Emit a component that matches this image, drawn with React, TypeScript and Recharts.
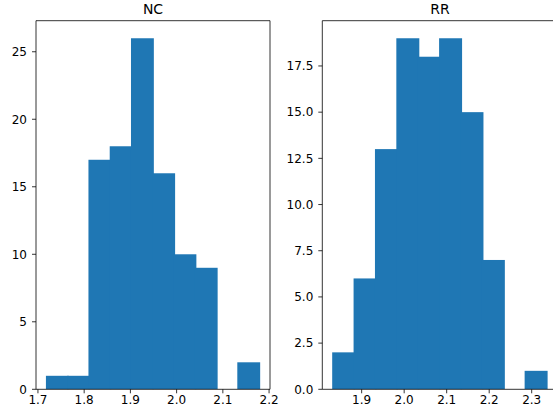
import { BarChart, Bar, XAxis, YAxis, ReferenceLine } from "recharts";

// bin centres (10 bins each)
const ncBins = [1.742, 1.788, 1.834, 1.88, 1.926, 1.972, 2.018, 2.064, 2.11, 2.156];
const ncCounts = [1, 1, 17, 18, 26, 16, 10, 9, 0, 2];
const ncXTicks = [1.7, 1.8, 1.9, 2.0, 2.1, 2.2];
const ncYTicks = [0, 5, 10, 15, 20, 25];

const rrBins = [1.8577, 1.908, 1.9583, 2.0086, 2.0589, 2.1092, 2.1595, 2.2098, 2.2601, 2.3104];
const rrCounts = [2, 6, 13, 19, 18, 19, 15, 7, 0, 1];
const rrXTicks = [1.9, 2.0, 2.1, 2.2, 2.3];
const rrYTicks = [0, 2.5, 5, 7.5, 10, 12.5, 15, 17.5];

const BLUE = "#1f77b4";
const FONT = "DejaVu Sans, sans-serif";
const tickStyle = { fill: "#000", fontSize: 12, fontFamily: FONT };

// bar rect widened a little so neighbouring bins touch (recharts truncates bar x/width)
const HistBar = (props: any) => {
  const { x, y, width, height } = props;
  if (!height || height <= 0) return null;
  return <rect x={x - 0.8} y={y} width={width + 1.6} height={height} fill={BLUE} />;
};

interface HistProps {
  title: string;
  bins: number[];
  counts: number[];
  xTicks: number[];
  yTicks: number[];
  xDomain: [number, number];
  yDomain: [number, number];
  yWidth: number;
  width: number;
  rightMargin: number;
  left: number;
  barPx: number;
  yFmt: (v: number) => string;
}

const Hist = (p: HistProps) => {
  const data = p.bins.map((b, i) => ({ bin: b, count: p.counts[i] }));
  const plotW = p.width - p.yWidth - p.rightMargin;
  return (
    <div style={{ position: "absolute", left: p.left, top: 0, width: p.width, height: 416 }}>
      <div
        style={{
          position: "absolute",
          left: p.yWidth,
          width: plotW,
          top: 1,
          textAlign: "center",
          fontFamily: FONT,
          fontSize: 14,
          fontWeight: 400,
        }}
      >
        {p.title}
      </div>
      <BarChart
        width={p.width}
        height={416}
        data={data}
        barCategoryGap={0}
        barGap={0}
        margin={{ top: 20.7, right: p.rightMargin, bottom: 0, left: 0 }}
      >
        <XAxis
          dataKey="bin"
          type="number"
          domain={p.xDomain}
          allowDataOverflow
          ticks={p.xTicks}
          interval={0}
          tickFormatter={(v: number) => v.toFixed(1)}
          height={26.7}
          tickSize={4}
          tickMargin={2}
          tick={tickStyle}
          stroke="#000"
          strokeWidth={0.8}
        />
        <YAxis
          domain={p.yDomain}
          allowDataOverflow
          ticks={p.yTicks}
          interval={0}
          tickFormatter={p.yFmt}
          width={p.yWidth}
          tickSize={4}
          tickMargin={5}
          tick={tickStyle}
          stroke="#000"
          strokeWidth={0.8}
        />
        <Bar
          dataKey="count"
          fill={BLUE}
          barSize={p.barPx}
          shape={HistBar}
          isAnimationActive={false}
        />
        <ReferenceLine y={p.yDomain[1]} stroke="#000" strokeWidth={0.8} />
        <ReferenceLine x={p.xDomain[1]} stroke="#000" strokeWidth={0.8} />
      </BarChart>
    </div>
  );
};

export default function App() {
  return (
    <div
      style={{
        position: "absolute",
        left: 0,
        top: 0,
        width: 553,
        height: 416,
        overflow: "hidden",
        background: "#fff",
      }}
    >
      <Hist
        title="NC"
        bins={ncBins}
        counts={ncCounts}
        xTicks={ncXTicks}
        yTicks={ncYTicks}
        xDomain={[1.6958, 2.202]}
        yDomain={[0, 27.3]}
        yWidth={36}
        width={280}
        rightMargin={10}
        left={0}
        barPx={21.26}
        yFmt={(v) => String(v)}
      />
      <Hist
        title="RR"
        bins={rrBins}
        counts={rrCounts}
        xTicks={rrXTicks}
        yTicks={rrYTicks}
        xDomain={[1.8074, 2.3607]}
        yDomain={[0, 19.95]}
        yWidth={42.3}
        width={277.5}
        rightMargin={0}
        left={280}
        barPx={21.38}
        yFmt={(v) => v.toFixed(1)}
      />
    </div>
  );
}
